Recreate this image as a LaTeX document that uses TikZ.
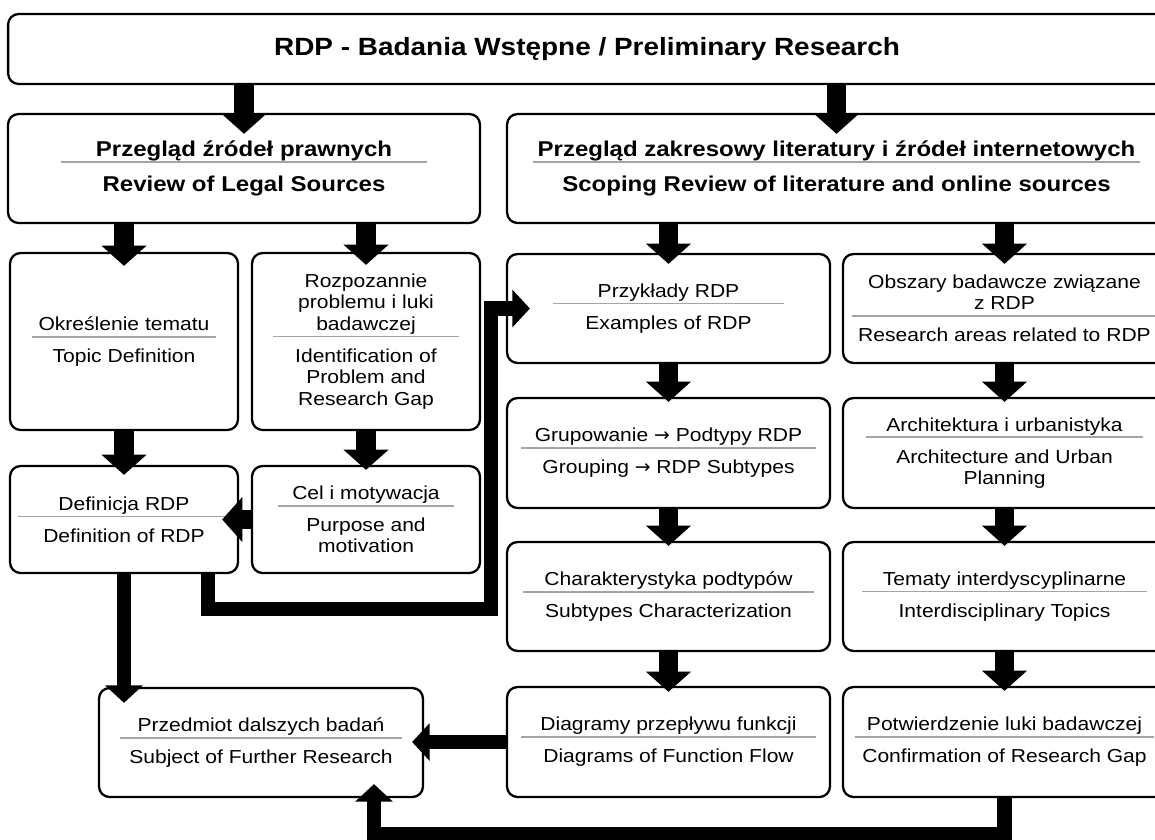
\documentclass[tikz,border=0pt]{standalone}
\usepackage{fontspec}
\setmainfont{Liberation Sans}[FakeStretch=1.12]
\newfontfamily\arrowfont{DejaVu Sans}
\usepackage[svgnames]{xcolor}
\usepackage{tikz}
\usetikzlibrary{arrows.meta}

\definecolor{sepgray}{RGB}{165,165,165}
\newcommand{\bodyfont}{\fontsize{10.7}{12.2}\selectfont}
\newcommand{\headfont}{\fontsize{12.2}{14.6}\selectfont\bfseries}
\newcommand{\titlefont}{\fontsize{14.2}{17}\selectfont\bfseries}
\newcommand{\sepline}[1]{\textcolor{sepgray}{\rule{#1}{1pt}}}
\newcommand{\plen}[3]{#2\\[-8.2pt]\sepline{#1}\\[2pt]#3}
\newcommand{\plenhead}[3]{#2\\[-11.2pt]\sepline{#1}\\[1.8pt]#3}
\newcommand{\toarrow}{{\arrowfont →}}

\begin{document}
\begin{tikzpicture}[x=0.02cm, y=-0.02cm,
		rdpbox/.style={draw, line width=1.3pt, rounded corners=6pt, align=center,
			inner sep=1pt, minimum width=6.46cm, minimum height=2.18cm, font=\bodyfont},
		headbox/.style={rdpbox, font=\headfont, minimum height=2.18cm},
		bigarrow/.style={line width=11pt, -{Triangle[width=25pt, length=11.5pt]}},
		looparrow/.style={line width=8pt, -{Triangle[width=21pt, length=10pt]}}
		]
		
		\useasboundingbox (0,0) rectangle (1155,839);
		
		\node at (587,49)[rdpbox, font=\titlefont, minimum width=23.16cm, minimum height=1.4cm](title){RDP - Badania Wstępne / Preliminary Research};
		
		%headings
		\node at (244,168.5)[headbox, minimum width=9.44cm](lhead){\plenhead{7.34cm}{Przegląd źródeł prawnych}{Review of Legal Sources}};
		\node at (836.5,168.5)[headbox, minimum width=13.18cm](rhead){\plenhead{12.16cm}{Przegląd zakresowy literatury i źródeł internetowych}{Scoping Review of literature and online sources}};
		
		%legal sources
		\node at (124,341.5)[rdpbox, minimum width=4.56cm, minimum height=3.54cm](topic){\plen{3.68cm}{Określenie tematu}{Topic Definition}};
		\node at (366,341.5)[rdpbox, minimum width=4.56cm, minimum height=3.54cm](gap){\plen{3.72cm}{Rozpozannie\\problemu i luki\\badawczej}{Identification of\\Problem and\\Research Gap}};
		\node at (124,519.5)[rdpbox, minimum width=4.56cm, minimum height=2.14cm](defn){\plen{4.26cm}{Definicja RDP}{Definition of RDP}};
		\node at (366,519.5)[rdpbox, minimum width=4.56cm, minimum height=2.14cm](purpose){\plen{3.52cm}{Cel i motywacja}{Purpose and\\motivation}};
		
		%scoping review
		\node at (668.5,308.5)[rdpbox](examples){\plen{4.64cm}{Przykłady RDP}{Examples of RDP}};
		\node at (1004.5,308.5)[rdpbox](areas){\plen{6.1cm}{Obszary badawcze związane\\z RDP}{Research areas related to RDP}};
		\node at (668.5,453)[rdpbox, minimum height=2.2cm](grouping){\plen{5.92cm}{Grupowanie \toarrow{} Podtypy RDP}{Grouping \toarrow{} RDP Subtypes}};
		\node at (1004.5,453)[rdpbox, minimum height=2.2cm](urban){\plen{5.56cm}{Architektura i urbanistyka}{Architecture and Urban\\Planning}};
		\node at (668.5,596.5)[rdpbox](subtypes){\plen{5.82cm}{Charakterystyka podtypów}{Subtypes Characterization}};
		\node at (1004.5,596.5)[rdpbox](topics){\plen{5.7cm}{Tematy interdyscyplinarne}{Interdisciplinary Topics}};
		\node at (668.5,742)[rdpbox, minimum height=2.2cm](flow){\plen{5.9cm}{Diagramy przepływu funkcji}{Diagrams of Function Flow}};
		\node at (1004.5,742)[rdpbox, minimum height=2.2cm](confirm){\plen{6.0cm}{Potwierdzenie luki badawczej}{Confirmation of Research Gap}};
		
		%result
		\node at (261,742.5)[rdpbox, minimum width=6.48cm](further){\plen{5.64cm}{Przedmiot dalszych badań}{Subject of Further Research}};
		
		\coordinate (elbowL) at (208,609);
		\coordinate (elbowR) at (491,609);
		\coordinate (loopbot) at (374,834);
		
		%arrows down
		\draw[bigarrow] (title.south -| lhead.north) -- ([yshift=-0.42cm]lhead.north);
		\draw[bigarrow] (title.south -| rhead.north) -- ([yshift=-0.42cm]rhead.north);
		\draw[bigarrow] (lhead.south -| topic.north) -- ([yshift=-0.28cm]topic.north);
		\draw[bigarrow] (lhead.south -| gap.north) -- ([yshift=-0.26cm]gap.north);
		\draw[bigarrow] (rhead.south -| examples.north) -- ([yshift=-0.22cm]examples.north);
		\draw[bigarrow] (rhead.south -| areas.north) -- ([yshift=-0.22cm]areas.north);
		\draw[bigarrow] (topic.south) -- ([yshift=-0.2cm]defn.north);
		\draw[bigarrow] (gap.south) -- ([yshift=-0.1cm]purpose.north);
		\draw[bigarrow] (examples.south) -- ([yshift=-0.1cm]grouping.north);
		\draw[bigarrow] (grouping.south) -- ([yshift=-0.1cm]subtypes.north);
		\draw[bigarrow] (subtypes.south) -- ([yshift=-0.12cm]flow.north);
		\draw[bigarrow] (areas.south) -- ([yshift=-0.1cm]urban.north);
		\draw[bigarrow] (urban.south) -- ([yshift=-0.1cm]topics.north);
		\draw[bigarrow] (topics.south) -- ([yshift=-0.1cm]confirm.north);
		
		%arrows sideways
		\draw[bigarrow] (purpose.west) -- ([xshift=-0.34cm]purpose.west -| defn.east);
		\draw[looparrow] (flow.west) -- ([xshift=-0.24cm]flow.west -| further.east);
		
		%loops
		\draw[looparrow] (defn.south) -- ([yshift=-0.32cm]defn.south |- further.north);
		\draw[looparrow] (defn.south -| elbowL) -- (elbowL) -- (elbowR) -- (elbowR |- examples.west) -- ([xshift=0.48cm]examples.west);
		\draw[looparrow] (confirm.south) -- (confirm.south |- loopbot) -- (loopbot) -- ([yshift=0.28cm]further.south -| loopbot);
	\end{tikzpicture}
\end{document}
